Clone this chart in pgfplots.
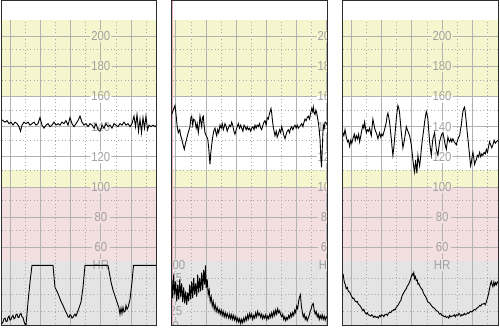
\documentclass[border=0pt]{standalone}
\usepackage{pgfplots}
\pgfplotsset{compat=1.18}
\usepackage{fontspec}
\setmainfont{Liberation Sans}
\usepackage{graphicx}
\definecolor{zyel}{RGB}{245,245,206}
\definecolor{zpink}{RGB}{243,223,223}
\definecolor{zgrey}{RGB}{228,228,228}
\definecolor{gridc}{RGB}{178,178,178}
\definecolor{dotc}{RGB}{170,170,170}
\definecolor{labc}{RGB}{160,160,160}
\definecolor{bordc}{RGB}{45,45,45}
\definecolor{redl}{RGB}{232,175,185}

\pgfplotsset{
 hrax/.style={width=155.7pt,height=324.7pt,scale only axis,anchor=south west,
   xmin=0,xmax=155.7,ymin=8.9,ymax=224.05,hide axis},
 tocoax/.style={width=155.7pt,height=63.2pt,scale only axis,anchor=south west,
   xmin=0,xmax=155.7,ymin=5.4,ymax=100,hide axis},
 trace/.style={black,line width=0.9pt,no marks}
}
\tikzset{lab/.style={text=labc,font=\fontsize{13}{13}\selectfont,inner sep=0pt,anchor=center},
 dotpat/.style={dotc,line width=0.7pt,dash pattern=on 1pt off 2.5pt}}

\newcommand{\zones}{%
 \fill[white] (axis cs:-20,211) rectangle (axis cs:180,230);
 \fill[zyel] (axis cs:-20,160) rectangle (axis cs:180,211);
 \fill[white] (axis cs:-20,111) rectangle (axis cs:180,160);
 \fill[zyel] (axis cs:-20,100) rectangle (axis cs:180,111);
 \fill[zpink] (axis cs:-20,50.8) rectangle (axis cs:180,100);
 \fill[zgrey] (axis cs:-20,0) rectangle (axis cs:180,50.8);
}
\newcommand{\vgrid}[2]{%
 \pgfplotsinvokeforeach{#1}{\draw[gridc,line width=1pt] (axis cs:##1,0) -- (axis cs:##1,211);}
 \pgfplotsinvokeforeach{#2}{\draw[dotpat] (axis cs:##1,0) -- (axis cs:##1,211);}
}
\newcommand{\hgrid}{%
 \pgfplotsinvokeforeach{60,80,100,120,140,160,180,200}{\draw[gridc,line width=1pt] (axis cs:-20,##1) -- (axis cs:180,##1);}
 \pgfplotsinvokeforeach{191,171,151,131,111,91,71,39.7,28.63,17.56}{\draw[dotpat] (axis cs:-20,##1) -- (axis cs:180,##1);}
}
\newcommand{\labrectsA}{%
 (axis cs:89.3,196) rectangle (axis cs:110.3,204)
 (axis cs:89.3,176) rectangle (axis cs:110.3,184)
 (axis cs:89.3,156) rectangle (axis cs:110.3,164)
 (axis cs:89.3,136) rectangle (axis cs:110.3,144)
 (axis cs:89.3,116) rectangle (axis cs:110.3,124)
 (axis cs:89.3,96) rectangle (axis cs:110.3,104)
 (axis cs:90.8,76) rectangle (axis cs:108.8,84)
 (axis cs:90.8,56) rectangle (axis cs:108.8,64)
 (axis cs:91.8,44.24) rectangle (axis cs:107.8,52.24)
}
\newcommand{\labelsA}{%
 \node[lab] at (axis cs:99.8,200) {\scalebox{0.87}[1]{200}};
 \node[lab] at (axis cs:99.8,180) {\scalebox{0.87}[1]{180}};
 \node[lab] at (axis cs:99.8,160) {\scalebox{0.87}[1]{160}};
 \node[lab] at (axis cs:99.8,140) {\scalebox{0.87}[1]{140}};
 \node[lab] at (axis cs:99.8,120) {\scalebox{0.87}[1]{120}};
 \node[lab] at (axis cs:99.8,100) {\scalebox{0.87}[1]{100}};
 \node[lab] at (axis cs:99.8,80) {\scalebox{0.87}[1]{80}};
 \node[lab] at (axis cs:99.8,60) {\scalebox{0.87}[1]{60}};
 \node[lab] at (axis cs:99.8,48.24) {\scalebox{0.87}[1]{HR}};
}

\begin{document}
\begin{tikzpicture}[x=1pt,y=1pt]
\path[use as bounding box] (0,0) rectangle (500,328);

% ---------------- Panel 1 ----------------
\begin{scope}
\clip (1,2.3) rectangle (156.7,327);
\begin{axis}[hrax,at={(1,2.3)}]
 \zones
 \vgrid{9.2,39.4,69.6,99.8,130.0}{24.3,54.5,84.7,114.9,145.1}
 \hgrid
 \begin{scope}\clip \labrectsA; \zones\end{scope}
 \labelsA
 \addplot[trace] coordinates {
 (0,145) (2,144) (4,143) (6,144) (8,142) (10,143) (12,141) (14,143) (16,142) (18,140)
 (19.5,137) (21,141) (23,143) (25,142) (27,143) (29,141) (31,142) (33,143) (35,141) (37,142)
 (39,146) (41,141) (43,139) (45,141) (47,142) (49,140) (51,141) (53,143) (55,141) (57,142)
 (59,141) (61,143) (63,142) (65,144) (67,141) (69,146) (71,142) (73,140) (75,142) (77,144)
 (79,147) (81,143) (83,141) (85,142) (87,140) (89,142) (91,141) (93,139) (95,142) (97,138)
 (99,137) (101,141) (103,139) (105,142) (107,140) (109,141) (111,139) (113,142) (115,141) (117,140)
 (119,142) (121,141) (123,143) (125,141) (127,142) (129,140) (131,142) (133,147) (134.5,140) (136,148)
 (137.5,137) (139,145) (140.5,136) (142,146) (143.5,139) (145,147) (146.5,138) (148,141) (150,140)
 (152,141) (154,140) (155.7,141)};
\end{axis}
\begin{axis}[tocoax,at={(1,2.3)}]
 \addplot[trace] coordinates {
 (0,17) (1,12) (2,14) (3,19) (4,20) (5,15) (6,15) (7,21) (8,23) (9,17) (10,18) (11,22)
 (12,24) (13,19) (14,20) (15,25) (16,26) (17,21) (18,21) (19,26) (20,27) (21,22) (22,21)
 (23,15) (24,11) (25,9) (27,44) (29,74) (31,99) (52,99) (54,66) (56,60) (58,53) (60,45)
 (62,39) (64,32) (66,26) (67,22) (68,21) (69,25) (70,24) (71,20) (72,21) (73,24) (74,26)
 (75,23) (76,27) (78,35) (80,44) (82,66) (84,99) (107,99) (110,74) (112,62) (114,53)
 (116,44) (118,35) (119,26) (120,35) (121,27) (122,36) (123,29) (124,30) (125,39) (126,33)
 (127,36) (129,48) (131,74) (132.5,99) (155.7,99)};
\end{axis}
\end{scope}
\draw[bordc,line width=1pt] (1,2.3) rectangle (156.7,327);

% ---------------- Panel 2 ----------------
\begin{scope}
\clip (171.7,2.3) rectangle (327.4,327);
\begin{axis}[hrax,at={(171.7,2.3)}]
 \zones
 \vgrid{4.1,34.3,64.5,94.7,124.9,155.1}{19.2,49.4,79.6,109.8,140.0}
 \hgrid
 \begin{scope}\clip
 (axis cs:144.9,196) rectangle (axis cs:165.9,204)
 (axis cs:144.9,176) rectangle (axis cs:165.9,184)
 (axis cs:144.9,156) rectangle (axis cs:165.9,164)
 (axis cs:144.9,136) rectangle (axis cs:165.9,144)
 (axis cs:144.9,116) rectangle (axis cs:165.9,124)
 (axis cs:144.9,96) rectangle (axis cs:165.9,104)
 (axis cs:146.4,76) rectangle (axis cs:164.4,84)
 (axis cs:146.4,56) rectangle (axis cs:164.4,64)
 (axis cs:147.4,44.24) rectangle (axis cs:163.4,52.24)
 (axis cs:-6.4,44.24) rectangle (axis cs:14.6,52.24)
 (axis cs:-4.9,35.7) rectangle (axis cs:13.1,43.7)
 (axis cs:-4.9,24.63) rectangle (axis cs:13.1,32.63)
 (axis cs:-4.9,13.56) rectangle (axis cs:13.1,21.56)
 (axis cs:-0.4,3.7) rectangle (axis cs:8.6,11.7);
 \zones\end{scope}
 \node[lab] at (axis cs:155.4,200) {\scalebox{0.87}[1]{200}};
 \node[lab] at (axis cs:155.4,180) {\scalebox{0.87}[1]{180}};
 \node[lab] at (axis cs:155.4,160) {\scalebox{0.87}[1]{160}};
 \node[lab] at (axis cs:155.4,140) {\scalebox{0.87}[1]{140}};
 \node[lab] at (axis cs:155.4,120) {\scalebox{0.87}[1]{120}};
 \node[lab] at (axis cs:155.4,100) {\scalebox{0.87}[1]{100}};
 \node[lab] at (axis cs:155.4,80) {\scalebox{0.87}[1]{80}};
 \node[lab] at (axis cs:155.4,60) {\scalebox{0.87}[1]{60}};
 \node[lab] at (axis cs:155.4,48.24) {\scalebox{0.87}[1]{HR}};
 \node[lab] at (axis cs:4.1,48.24) {\scalebox{0.87}[1]{100}};
 \node[lab] at (axis cs:4.1,39.7) {\scalebox{0.87}[1]{75}};
 \node[lab] at (axis cs:4.1,28.63) {\scalebox{0.87}[1]{50}};
 \node[lab] at (axis cs:4.1,17.56) {\scalebox{0.87}[1]{25}};
 \node[lab] at (axis cs:4.1,7.7) {\scalebox{0.87}[1]{0}};
 \draw[redl,line width=0.7pt] (axis cs:1.1,0) -- (axis cs:1.1,230);
 \addplot[trace] coordinates {
 (0,148) (1.5,151) (3.3,154) (4.5,147) (5.5,140) (6.6,136) (8,138) (9,134) (10,132) (11,129)
 (12.6,125) (13.8,129) (15,132) (16.5,136) (18.3,140) (19.2,146) (20,147) (21,141) (22,145)
 (23.3,144) (24.5,139) (25.5,142) (26.6,136) (27.5,141) (28.3,147) (29.2,143) (30,140)
 (30.8,146) (31.6,147) (32.5,140) (33.3,136) (34.5,134) (36,132) (37,126) (37.8,119) (38.3,115)
 (39,122) (40,128) (41,133) (42,137) (43.3,139) (44.2,136) (45,134) (46,138) (47,136) (48.3,141)
 (49.5,139) (50.5,142) (51.6,138) (52.5,140) (53.3,142) (54.5,140) (55.5,137) (56.6,139)
 (57.8,141) (59,140) (60,143) (61,141) (62.2,137) (63.3,135) (64.5,138) (65.5,140) (66.6,142)
 (67.8,139) (69,141) (70,139) (71.2,137) (72.3,141) (73.3,140) (74.5,138) (75.5,140) (76.6,138)
 (77.8,139) (79,137) (80,139) (81.2,140) (82.3,138) (83.3,141) (84.5,139) (85.5,141) (86.6,140)
 (87.8,142) (89,139) (90,138) (91.2,141) (92.3,143) (93.3,144) (94.5,141) (95.5,146) (96.6,145)
 (97.5,148) (98.4,150) (99.3,152) (100,149) (100.6,145) (101.5,140) (102.4,137) (103.3,134)
 (104.5,137) (105.5,133) (106.6,135) (107.8,138) (109,136) (110,140) (111.2,137) (112.3,134)
 (113.3,132) (114.5,135) (115.5,137) (116.6,138) (117.8,136) (119,139) (120,140) (121.2,138)
 (122.3,140) (123.3,141) (124.5,139) (125.5,141) (126.6,139) (127.8,140) (129,141) (130,142)
 (131.2,140) (132.3,143) (133.3,145) (134.5,144) (135.5,146) (136.6,147) (137.8,145) (139,149)
 (140,152) (141,150) (141.6,153) (142.5,149) (143.3,148) (144.2,151) (145,149) (145.8,146)
 (146.6,143) (147.5,138) (148.3,132) (148.8,125) (149.3,118) (149.8,113) (150.2,119) (150.6,126)
 (151.1,134) (151.6,141) (152.5,139) (153.3,143) (154,143) (155,142) (155.7,141)};
\end{axis}
\begin{axis}[tocoax,at={(171.7,2.3)}]
 \addplot[trace] coordinates {
 (0,80) (1,50) (2,85) (3,55) (4,75) (5,45) (6,70) (7,48) (8,78) (9,52) (10,72) (11,44) (12,66)
 (13,42) (14,60) (15,40) (16,58) (17,45) (18,70) (19,48) (20,75) (21,50) (22,80) (23,55)
 (24,72) (25,52) (26,85) (27,58) (28,80) (29,60) (30,88) (31,62) (32,92) (33,70) (33.8,99)
 (34.5,65) (35.5,78) (36.5,55) (37.5,62) (38.5,45) (39.5,52) (40.5,38) (41.5,45) (42.5,33)
 (43.5,40) (44.5,30) (45.5,36) (46.5,28) (47.5,33) (48.5,26) (49.5,32) (50.5,24) (51.5,30)
 (52.5,22) (53.5,28) (54.5,21) (55.5,27) (57,20) (58,26) (59,19) (60,25) (61,18) (62,24)
 (63,17) (64,22) (65,15) (66,20) (67,14) (68,19) (69,12) (70,18) (71,13) (72,20) (73,15)
 (74,22) (75,17) (76,25) (77,19) (78,27) (79,21) (80,26) (81,18) (82,24) (83,20) (84,28)
 (85,22) (86,30) (87,24) (88,27) (89,21) (90,26) (91,19) (92,24) (93,20) (94,25) (95,18)
 (96,23) (97,19) (98,26) (99,21) (100,28) (101,22) (102,30) (103,24) (104,32) (105,26)
 (106,34) (107,28) (108,31) (109,25) (110,22) (111,26) (112,18) (113,22) (114,16) (115,21)
 (116,18) (117,24) (118,20) (119,27) (120,22) (121,28) (122,24) (123,32) (124,28) (125,38)
 (126,34) (127,46) (128,52) (128.8,55) (129.5,40) (130.5,30) (131.5,22) (132.5,26) (133.5,18)
 (134.5,22) (135.5,16) (136.5,20) (137.5,24) (138.5,30) (139.5,34) (140.5,40) (141.5,42)
 (142.5,32) (143.5,26) (144.5,30) (145.5,22) (146.5,26) (147.5,18) (148.5,24) (149.5,19)
 (150.5,25) (151.5,18) (152.5,23) (153.5,17) (154.5,22) (155.7,20)};
\end{axis}
\end{scope}
\draw[bordc,line width=1pt] (171.7,2.3) rectangle (327.4,327);

% ---------------- Panel 3 ----------------
\begin{scope}
\clip (342.3,2.3) rectangle (498,327);
\begin{axis}[hrax,at={(342.3,2.3)}]
 \zones
 \vgrid{9.2,39.4,69.6,99.8,130.0}{24.3,54.5,84.7,114.9,145.1}
 \hgrid
 \begin{scope}\clip \labrectsA; \zones\end{scope}
 \labelsA
 \addplot[trace] coordinates {
 (0,137) (1.5,134) (2.7,138) (4,133) (5.2,130) (6.3,131) (7.3,127) (8.5,131) (9.5,129) (10.6,132)
 (12,135) (13,131) (14,134) (15.2,132) (16.3,135) (17.3,130) (18.5,134) (19.6,138) (20.6,141)
 (21.5,139) (22.3,143) (23.2,139) (24,136) (25,138) (26.2,137) (27.3,139) (28.2,136) (29,134)
 (29.8,140) (30.6,145) (31.5,142) (32.3,139) (33.3,137) (34.5,135) (35.6,132) (36.5,134)
 (37.3,136) (38.5,133) (39.5,135) (40.6,134) (41.8,137) (43,140) (44,143) (44.8,147) (45.6,149)
 (46.5,146) (47.3,143) (48.2,137) (49,132) (49.8,126) (50.6,121) (51.5,126) (52.3,132) (53.2,139)
 (54,145) (54.8,150) (55.6,154) (56.5,152) (57.3,149) (58.2,142) (59,136) (59.8,131) (60.6,126)
 (61.5,129) (62.3,132) (63.2,136) (64,140) (65,138) (66.2,136) (67.3,134) (68.2,131) (69,128)
 (69.8,123) (70.6,118) (71.5,113) (72.3,110) (73.3,118) (74,113) (74.6,109) (75.1,115) (75.6,121)
 (76.5,117) (77.3,114) (78.2,119) (79,125) (80,131) (81.2,137) (82.3,143) (83.2,147) (84,150)
 (84.8,148) (85.6,145) (86.5,137) (87.3,130) (88.2,125) (89,121) (89.8,127) (90.6,132) (91.5,134)
 (92.3,136) (93.2,130) (94,125) (94.8,123) (95.6,121) (96.5,126) (97.3,130) (98.5,133) (99.5,135)
 (100.6,136) (101.5,133) (102.3,130) (103.2,127) (104,125) (104.8,129) (105.6,133) (106.5,131)
 (107.3,130) (108.5,132) (109.5,130) (110.6,132) (111.8,130) (113,129) (114,128) (115.2,131)
 (116.3,133) (117.3,134) (118.2,138) (119,141) (119.8,146) (120.6,150) (121.5,152) (122.3,153)
 (123.2,148) (124,143) (124.8,137) (125.6,132) (126.5,126) (127.3,121) (127.8,117) (128.3,114)
 (129,116) (129.8,120) (130.6,123) (131.5,119) (132.3,115) (133.2,117) (134,118) (135,121)
 (136.2,120) (137.3,123) (138.5,120) (139.5,122) (140.6,121) (141.8,123) (143,122) (144,125)
 (145.2,123) (146.3,127) (147.3,130) (148.3,128) (149.5,126) (150.6,128) (151.8,131) (153,129)
 (154,130) (155.7,131)};
\end{axis}
\begin{axis}[tocoax,at={(342.3,2.3)}]
 \addplot[trace] coordinates {
 (0,80) (1,84) (2,74) (3,70) (4,64) (5,66) (6,60) (7.3,59) (8.5,55) (9.5,52) (10.6,49)
 (11.5,50) (12.5,46) (14,44) (15,45) (16,41) (17.3,39) (18.5,37) (19.5,34) (20.6,31) (21.5,33)
 (22.5,29) (24,26) (25,28) (26,25) (27.3,24) (28.5,23) (29.5,25) (30.6,23) (31.5,21) (32.5,23)
 (34,21) (35,22) (36,20) (37.3,24) (38.5,22) (39.5,25) (40.6,24) (41.5,22) (42.5,25) (44,26)
 (45,24) (46,27) (47.3,29) (48.5,28) (49.5,31) (50.6,31) (51.5,33) (52.5,32) (54,36) (55,38)
 (56,40) (57.3,44) (58.5,46) (59.5,52) (60.6,56) (61.5,58) (62.5,61) (64,64) (65,68) (66,70)
 (67.3,74) (68.2,78) (69,82) (70,86) (70.8,84) (71.5,88) (72.3,79) (73.2,82) (74,76) (75,77)
 (75.6,71) (76.5,72) (77.5,68) (79,64) (80,63) (81,58) (82.3,54) (83.5,52) (84.5,48) (85.6,44)
 (87,43) (88.5,40) (90.6,36) (92,35) (93,33) (94,31) (95.5,30) (96.5,28) (97.3,26) (98.5,27)
 (99.5,24) (100.6,24) (102,22) (103,23) (104,21) (105.5,22) (106.5,20) (107.3,24) (108.5,22)
 (109.5,23) (110.6,23) (112,25) (113,22) (114,25) (115.5,24) (116.5,27) (117.3,26) (118.5,23)
 (119.5,25) (120.6,24) (122,27) (123,25) (124,26) (125.5,28) (126.5,27) (127.3,29) (128.5,30)
 (129.5,29) (130.6,31) (132,33) (133,32) (134,34) (135.5,36) (136.5,37) (137.3,39) (138.5,38)
 (139.5,41) (140.6,41) (142,42) (143,40) (144,44) (145,49) (146,55) (146.6,59) (147.5,66)
 (148.3,72) (149,75) (149.8,70) (150.6,67) (151.5,74) (152.3,69) (153.2,73) (154,70) (155,74)
 (155.7,72)};
\end{axis}
\end{scope}
\draw[bordc,line width=1pt] (342.3,2.3) rectangle (498,327);
\end{tikzpicture}
\end{document}
